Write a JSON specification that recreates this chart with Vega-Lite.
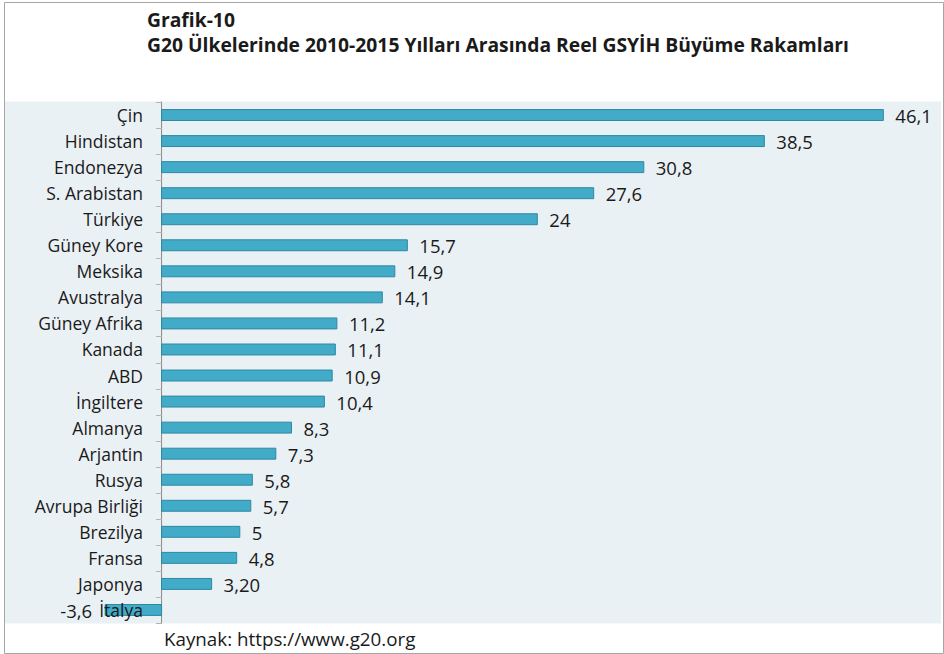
{
  "$schema": "https://vega.github.io/schema/vega-lite/v6.json",
  "width": 939,
  "height": 651,
  "autosize": {"type": "none"},
  "padding": {"left": 4, "top": 2, "right": 1, "bottom": 1},
  "background": "white",
  "config": {
    "view": {"stroke": "#a6a6a6", "strokeWidth": 1, "fill": "white"},
    "font": "Open Sans"
  },
  "title": {
    "text": ["Grafik-10", "G20 Ülkelerinde 2010-2015 Yılları Arasında Reel GSYİH Büyüme Rakamları"],
    "anchor": "start",
    "frame": "group",
    "orient": "top",
    "font": "Open Sans",
    "fontSize": 19.3,
    "fontWeight": "bold",
    "color": "#1a1a1a",
    "lineHeight": 25,
    "dx": 143,
    "offset": -68.5
  },
  "data": {
    "values": [
      {"country": "Çin", "value": 46.1, "label": "46,1"},
      {"country": "Hindistan", "value": 38.5, "label": "38,5"},
      {"country": "Endonezya", "value": 30.8, "label": "30,8"},
      {"country": "S. Arabistan", "value": 27.6, "label": "27,6"},
      {"country": "Türkiye", "value": 24, "label": "24"},
      {"country": "Güney Kore", "value": 15.7, "label": "15,7"},
      {"country": "Meksika", "value": 14.9, "label": "14,9"},
      {"country": "Avustralya", "value": 14.1, "label": "14,1"},
      {"country": "Güney Afrika", "value": 11.2, "label": "11,2"},
      {"country": "Kanada", "value": 11.1, "label": "11,1"},
      {"country": "ABD", "value": 10.9, "label": "10,9"},
      {"country": "İngiltere", "value": 10.4, "label": "10,4"},
      {"country": "Almanya", "value": 8.3, "label": "8,3"},
      {"country": "Arjantin", "value": 7.3, "label": "7,3"},
      {"country": "Rusya", "value": 5.8, "label": "5,8"},
      {"country": "Avrupa Birliği", "value": 5.7, "label": "5,7"},
      {"country": "Brezilya", "value": 5, "label": "5"},
      {"country": "Fransa", "value": 4.8, "label": "4,8"},
      {"country": "Japonya", "value": 3.2, "label": "3,20"},
      {"country": "İtalya", "value": -3.6, "label": "-3,6"}
    ]
  },
  "encoding": {
    "y": {
      "field": "country",
      "type": "nominal",
      "sort": null,
      "scale": {"paddingInner": 0, "paddingOuter": 0, "range": [100, 621]},
      "axis": {
        "orient": "left",
        "offset": -157.5,
        "title": null,
        "domain": false,
        "grid": false,
        "ticks": true,
        "tickBand": "extent",
        "tickSize": 6,
        "tickColor": "#b3b3b3",
        "tickWidth": 1,
        "labelPadding": 13,
        "labelFont": "Open Sans",
        "labelFontSize": 17.5,
        "labelColor": "#1a1a1a",
        "labelBaseline": "alphabetic",
        "labelOffset": 6.5,
        "labelLimit": 300,
        "zindex": 2
      }
    }
  },
  "layer": [
    {
      "mark": {"type": "bar", "color": "#eaf1f5", "height": {"band": 1.04}},
      "encoding": {
        "x": {
          "datum": -9.995,
          "type": "quantitative",
          "scale": {"domain": [-10.06, 49.91], "nice": false, "zero": false},
          "axis": {
            "orient": "bottom",
            "labels": false,
            "ticks": false,
            "domain": false,
            "grid": false,
            "title": "Kaynak: https://www.g20.org",
            "titleX": 159.5,
            "titleY": -8,
            "titleAlign": "left",
            "titleBaseline": "alphabetic",
            "titleFont": "Open Sans",
            "titleFontSize": 18.8,
            "titleFontWeight": "normal",
            "titleColor": "#1a1a1a"
          }
        },
        "x2": {"datum": 49.78}
      }
    },
    {
      "mark": {"type": "bar", "color": "#8e8e8e", "height": {"band": 1.04}},
      "encoding": {
        "x": {"datum": -0.035, "type": "quantitative", "scale": {"domain": [-10.06, 49.91], "nice": false, "zero": false}},
        "x2": {"datum": 0.035}
      }
    },
    {
      "mark": {"type": "bar", "fill": "#42abc7", "stroke": "#2f88a2", "strokeWidth": 1, "height": {"band": 0.42}},
      "encoding": {
        "x": {"field": "value", "type": "quantitative", "scale": {"domain": [-10.06, 49.91], "nice": false, "zero": false}},
        "x2": {"datum": 0}
      }
    },
    {
      "transform": [{"filter": "datum.value >= 0"}],
      "mark": {"type": "text", "align": "left", "baseline": "alphabetic", "dx": 12, "dy": 8, "font": "Open Sans", "fontSize": 18.5, "color": "#1a1a1a"},
      "encoding": {
        "x": {"field": "value", "type": "quantitative", "scale": {"domain": [-10.06, 49.91], "nice": false, "zero": false}},
        "text": {"field": "label"}
      }
    },
    {
      "transform": [{"filter": "datum.value < 0"}],
      "mark": {"type": "text", "align": "right", "baseline": "alphabetic", "dx": -13, "dy": 8, "font": "Open Sans", "fontSize": 18.5, "color": "#1a1a1a"},
      "encoding": {
        "x": {"field": "value", "type": "quantitative", "scale": {"domain": [-10.06, 49.91], "nice": false, "zero": false}},
        "text": {"field": "label"}
      }
    }
  ]
}
